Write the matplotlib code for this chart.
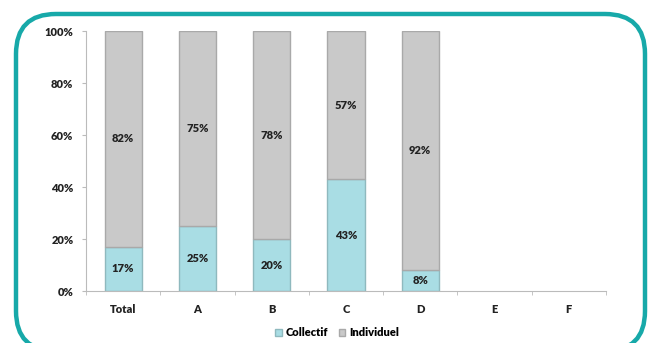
import matplotlib
matplotlib.use('Agg')
import matplotlib.pyplot as plt
from matplotlib.patches import FancyBboxPatch
from matplotlib.transforms import IdentityTransform
import numpy as np

plt.rcParams['font.family'] = ['Lato', 'DejaVu Sans']

categories = ['Total', 'A', 'B', 'C', 'D', 'E', 'F']
collectif = [17, 25, 20, 43, 8, None, None]
individuel = [82, 75, 78, 57, 92, None, None]

teal = '#a9dde4'
grey = '#c9c9c9'
txt = '#222222'

fig = plt.figure(figsize=(6.48, 3.43), dpi=100)
ax = fig.add_axes([0.1327, 0.1516, 0.8023, 0.758])

x = np.arange(len(categories))
col = np.array([v if v is not None else 0 for v in collectif], dtype=float)
ind = np.array([v if v is not None else 0 for v in individuel], dtype=float)
# stacked to 100%, the individual part fills the rest
has = np.array([v is not None for v in collectif])

ax.bar(x[has], col[has], width=0.5, color=teal, edgecolor='#8fb9be', linewidth=1.0,
       label='Collectif')
ax.bar(x[has], 100 - col[has], bottom=col[has], width=0.5, color=grey,
       edgecolor='#a9a9a9', linewidth=1.0, label='Individuel')

for i in x[has]:
    ax.text(i, col[i] / 2, f'{int(col[i])}%', ha='center', va='center',
            fontsize=8, fontweight='heavy', color=txt)
    ax.text(i, col[i] + (100 - col[i]) / 2, f'{int(ind[i])}%', ha='center',
            va='center', fontsize=8, fontweight='heavy', color=txt)

ax.set_xlim(-0.5, len(categories) - 0.5)
ax.set_ylim(0, 100)
ax.set_yticks(range(0, 101, 20))
ax.set_yticklabels([f'{v}%' for v in range(0, 101, 20)], fontsize=8, fontweight='heavy',
                   color=txt)
ax.set_xticks(x)
ax.set_xticklabels(categories, fontsize=8, fontweight='heavy', color=txt)
ax.set_xticks(np.arange(-0.5, len(categories)), minor=True)
ax.tick_params(axis='x', which='major', length=0, pad=9)
ax.tick_params(axis='x', which='minor', length=3, color='#bbbbbb')
ax.tick_params(axis='y', length=3, color='#bbbbbb', pad=6)

for s in ['top', 'right']:
    ax.spines[s].set_visible(False)
ax.spines['left'].set_color('#bbbbbb')
ax.spines['bottom'].set_color('#bbbbbb')

fig.legend(loc='center', bbox_to_anchor=(0.52, 0.03), ncol=2, frameon=False,
           prop={'size': 8, 'weight': 'heavy'}, handlelength=0.6,
           handleheight=0.6, handletextpad=0.3, columnspacing=1.0)

# rounded teal frame around the chart
frame = FancyBboxPatch((16, -8), 629, 337, boxstyle='round,pad=0,rounding_size=40',
                       transform=IdentityTransform(), fill=False, edgecolor='#17a9a9',
                       linewidth=3.2, clip_on=False)
fig.patches.append(frame)

fig.savefig('out.png', dpi=100)
